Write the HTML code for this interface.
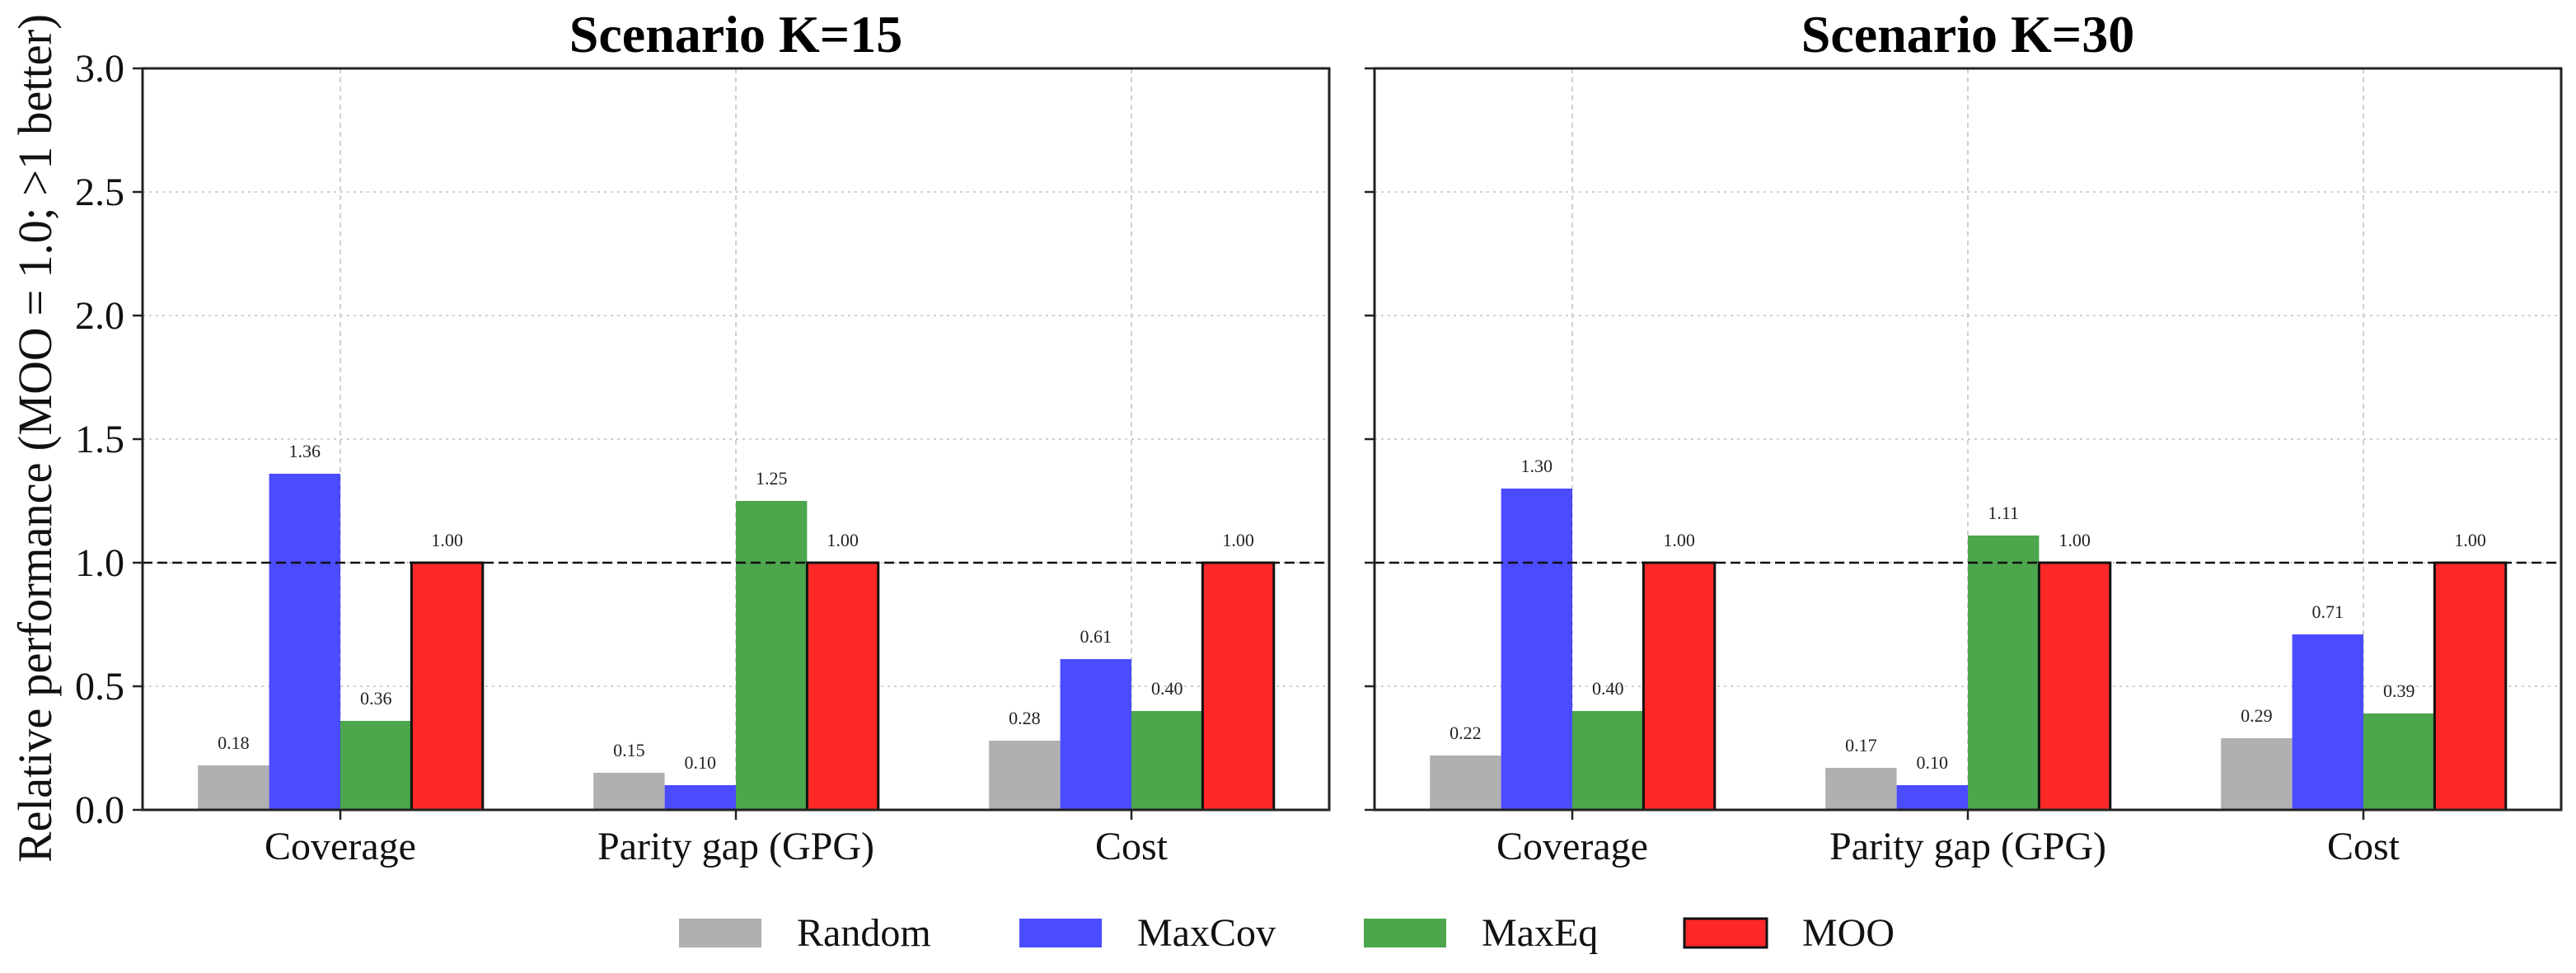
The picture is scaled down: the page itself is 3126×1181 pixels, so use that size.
<!DOCTYPE html>
<html><head><meta charset="utf-8"><style>
html,body{margin:0;padding:0;background:#fff;}
svg{display:block;font-family:"Liberation Serif",serif;}
</style></head><body>
<svg id="chart" width="3126" height="1181" xmlns="http://www.w3.org/2000/svg"></svg>
<script>
const categories = ["Coverage", "Parity gap (GPG)", "Cost"];
const seriesNames = ["Random", "MaxCov", "MaxEq", "MOO"];
const panelTitles = ["Scenario K=15", "Scenario K=30"];
const k15Random = [0.18, 0.15, 0.28];
const k15MaxCov = [1.36, 0.10, 0.61];
const k15MaxEq = [0.36, 1.25, 0.40];
const k15MOO = [1.00, 1.00, 1.00];
const k30Random = [0.22, 0.17, 0.29];
const k30MaxCov = [1.30, 0.10, 0.71];
const k30MaxEq = [0.40, 1.11, 0.39];
const k30MOO = [1.00, 1.00, 1.00];
const yTicks = [0, 0.5, 1.0, 1.5, 2.0, 2.5, 3.0];
const yTickLabels = ["0.0", "0.5", "1.0", "1.5", "2.0", "2.5", "3.0"];
const refValue = 1.0;

const panelData = [[k15Random, k15MaxCov, k15MaxEq, k15MOO], [k30Random, k30MaxCov, k30MaxEq, k30MOO]];
const colors = ["#b0b0b0", "#4b4bff", "#4ca64c", "#ff2828"];
const NS = "http://www.w3.org/2000/svg";
const svg = document.getElementById("chart");
function mk(tag, attrs, parent) {
  const e = document.createElementNS(NS, tag);
  for (const k in attrs) e.setAttribute(k, attrs[k]);
  (parent || svg).appendChild(e);
  return e;
}
const panels = [{x0: 173, x1: 1613}, {x0: 1668, x1: 3108}];
const yTop = 83, yBot = 983, yMax = 3.0;
function yS(v) { return yBot - (v / yMax) * (yBot - yTop); }
const barW = 0.18;

panels.forEach((p, pi) => {
  const g = mk("g", {});
  
  
  const unit = (p.x1 - p.x0) / 3;
  const xS = v => p.x0 + (v + 0.5) * unit;
  yTicks.forEach(t => {
    if (t === 0 || t === 3) return;
    const l = mk("line", {x1: p.x0, x2: p.x1, y1: yS(t), y2: yS(t), stroke: "#d0d0d0", "stroke-width": 2, "stroke-dasharray": "3,5"}, g);
    
    
  });
  categories.forEach((c, ci) => {
    const l = mk("line", {x1: xS(ci), x2: xS(ci), y1: yTop, y2: yBot, stroke: "#d0d0d0", "stroke-width": 2, "stroke-dasharray": "6,5"}, g);
    
    
  });
  panelData[pi].forEach((vals, si) => {
    vals.forEach((v, ci) => {
      const cx = xS(ci + (si - 1.5) * barW);
      const x = cx - barW * unit / 2;
      const w = barW * unit;
      const attrs = {x: x, y: yS(v), width: w, height: yBot - yS(v), fill: colors[si]};
      if (si === 3) { attrs.stroke = "#111"; attrs["stroke-width"] = 3; }
      const r = mk("rect", attrs, g);
      
      
      const t = mk("text", {x: cx, y: yS(v) - 20, "text-anchor": "middle", "font-size": 22, fill: "#222"}, g);
      t.textContent = v.toFixed(2);
      
      
    });
  });
  const rl = mk("line", {x1: p.x0, x2: p.x1, y1: yS(refValue), y2: yS(refValue), stroke: "#111", "stroke-width": 2.5, "stroke-dasharray": "12,6"}, g);
  
  
  const fr = mk("rect", {x: p.x0, y: yTop, width: p.x1 - p.x0, height: yBot - yTop, fill: "none", stroke: "#222", "stroke-width": 3}, g);
  
  
  yTicks.forEach((t, ti) => {
    const tl = mk("line", {x1: p.x0 - 12, x2: p.x0, y1: yS(t), y2: yS(t), stroke: "#222", "stroke-width": 2.5}, g);
    
    
    if (pi === 0) {
      const tx = mk("text", {x: p.x0 - 22, y: yS(t) + 16, "text-anchor": "end", "font-size": 48, fill: "#111"}, g);
      tx.textContent = yTickLabels[ti];
      
      
    }
  });
  categories.forEach((c, ci) => {
    const tl = mk("line", {x1: xS(ci), x2: xS(ci), y1: yBot, y2: yBot + 12, stroke: "#222", "stroke-width": 2.5}, g);
    
    
    const tx = mk("text", {x: xS(ci), y: 1043, "text-anchor": "middle", "font-size": 48, fill: "#111"}, g);
    tx.textContent = c;
    
    
  });
  const tt = mk("text", {x: (p.x0 + p.x1) / 2, y: 63, "text-anchor": "middle", "font-size": 64, "font-weight": "bold", fill: "#000"}, g);
  tt.textContent = panelTitles[pi];
  
  
});

const yl = mk("text", {x: 0, y: 0, transform: "translate(62,532) rotate(-90)", "text-anchor": "middle", "font-size": 58, fill: "#111", textLength: 1030, lengthAdjust: "spacingAndGlyphs"});
yl.textContent = "Relative performance (MOO = 1.0; >1 better)";



const legendX = [824, 1237, 1655, 2044];
seriesNames.forEach((n, si) => {
  const lg = mk("g", {});
  
  
  const attrs = {x: legendX[si], y: 1115, width: 100, height: 35, fill: colors[si]};
  if (si === 3) { attrs.stroke = "#111"; attrs["stroke-width"] = 3; }
  mk("rect", attrs, lg);
  const t = mk("text", {x: legendX[si] + 143, y: 1148, "font-size": 48, fill: "#111"}, lg);
  t.textContent = n;
});
</script>
</body></html>
